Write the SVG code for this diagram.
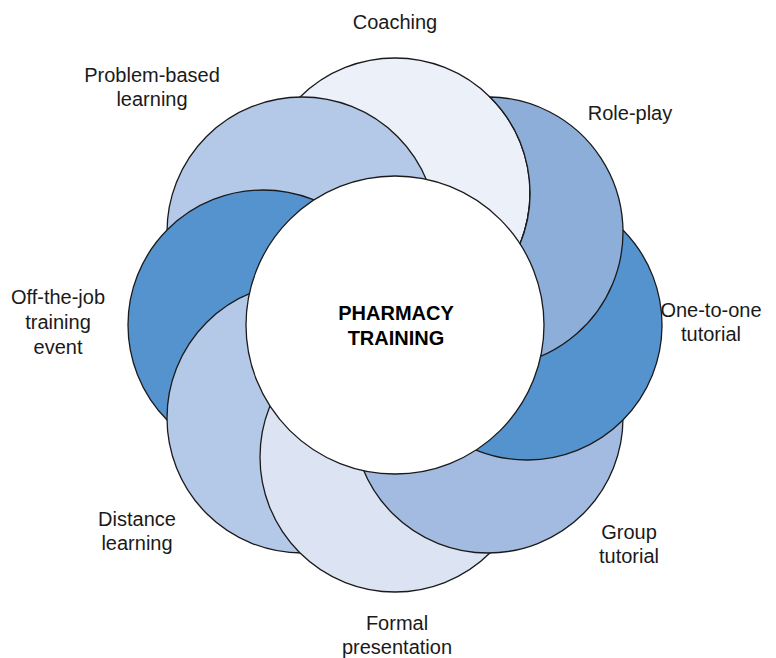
<svg xmlns="http://www.w3.org/2000/svg" width="776" height="658" viewBox="0 0 776 658">
<style>
.c{stroke:#1a1a1a;stroke-width:1.3}
.lbl{font-family:"Liberation Sans",Arial,sans-serif;font-size:20px;fill:#1a1a1a;text-anchor:middle}
.ctr{font-family:"Liberation Sans",Arial,sans-serif;font-size:20px;font-weight:bold;fill:#000;text-anchor:middle}
</style>
<g id="ring">
<g id="coaching"><circle class="c" cx="395" cy="193" r="135" fill="#ECF0F8"/></g>
<g id="problem-based"><circle class="c" cx="302" cy="232" r="135" fill="#B4C8E7"/></g>
<g id="off-the-job"><circle class="c" cx="263" cy="325" r="135" fill="#5593CF"/></g>
<g id="distance"><circle class="c" cx="302" cy="418" r="135" fill="#B4C8E7"/></g>
<g id="formal"><circle class="c" cx="395" cy="457" r="135" fill="#DCE4F3"/></g>
<g id="group"><circle class="c" cx="488" cy="418" r="135" fill="#A3BBE0"/></g>
<g id="one-to-one"><path class="c" fill="#5593CF" d="M529.96 190.04A135 135 0 1 1 392.04 327.96A135 135 0 0 0 529.96 190.04Z"/></g>
<g id="role-play"><path class="c" fill="#8EAEDA" d="M489.93 97.01A135 135 0 1 1 393.07 327.99A135 135 0 0 0 489.93 97.01Z"/></g>
</g>
<g id="center"><circle class="c" cx="395" cy="325" r="149" fill="#fff"/>
<text class="ctr" x="396" y="320">PHARMACY</text>
<text class="ctr" x="396" y="345">TRAINING</text></g>
<g id="labels">
<text class="lbl" x="395" y="29">Coaching</text>
<text class="lbl" x="152" y="82">Problem-based</text>
<text class="lbl" x="152" y="106">learning</text>
<text class="lbl" x="630" y="120">Role-play</text>
<text class="lbl" x="58" y="304">Off-the-job</text>
<text class="lbl" x="58" y="329">training</text>
<text class="lbl" x="58" y="354">event</text>
<text class="lbl" x="711" y="317">One-to-one</text>
<text class="lbl" x="711" y="341">tutorial</text>
<text class="lbl" x="137" y="526">Distance</text>
<text class="lbl" x="137" y="550">learning</text>
<text class="lbl" x="629" y="539">Group</text>
<text class="lbl" x="629" y="563">tutorial</text>
<text class="lbl" x="397" y="630">Formal</text>
<text class="lbl" x="397" y="654">presentation</text>
</g>
</svg>
